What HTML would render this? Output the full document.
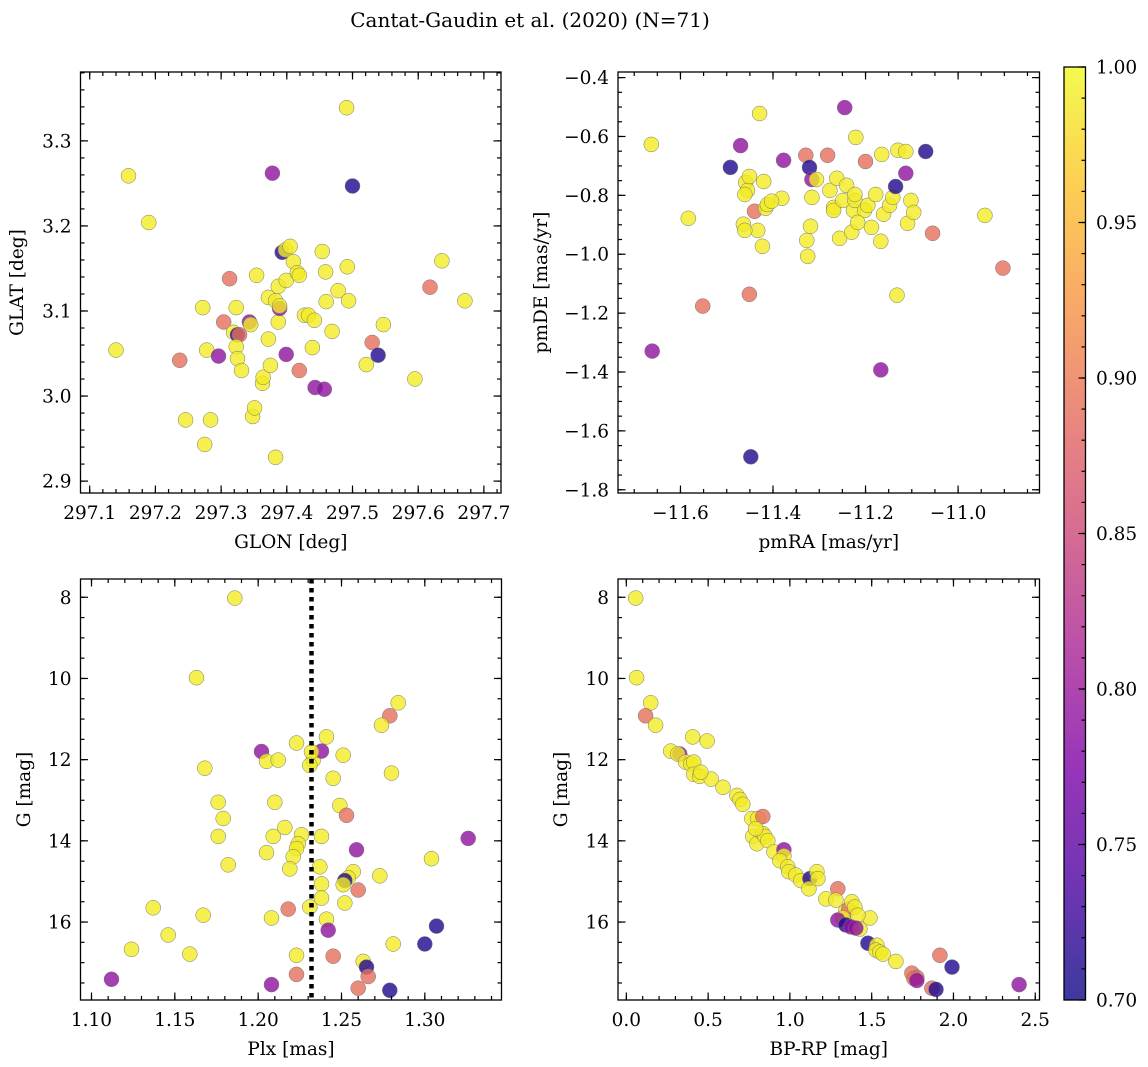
<!DOCTYPE html>
<html><head><meta charset="utf-8">
<style>
html,body{margin:0;padding:0;background:#fff;}
svg{display:block;font-family:"DejaVu Serif","Liberation Serif",serif;}
</style></head>
<body>
<svg id="fig" width="1148" height="1067" viewBox="0 0 1148 1067" xmlns="http://www.w3.org/2000/svg">
<defs>
<linearGradient id="plasma" x1="0" y1="1" x2="0" y2="0">
<stop offset="0" stop-color="#0d0887"/><stop offset="0.125" stop-color="#4c02a1"/><stop offset="0.25" stop-color="#7e03a8"/><stop offset="0.375" stop-color="#a92395"/><stop offset="0.5" stop-color="#cc4778"/><stop offset="0.625" stop-color="#e56b5d"/><stop offset="0.75" stop-color="#f89441"/><stop offset="0.875" stop-color="#fdc328"/><stop offset="1" stop-color="#f0f921"/>
</linearGradient>
</defs>
<text x="530" y="27" font-size="20" text-anchor="middle">Cantat-Gaudin et al. (2020) (N=71)</text>
</svg>
<script>
const Y=0.99,S=0.89,P=0.79,B=0.71;
const skyData=[[297.140,3.054,Y],[297.159,3.259,Y],[297.190,3.204,Y],[297.246,2.972,Y],[297.275,2.943,Y],[297.284,2.972,Y],[297.237,3.042,S],[297.272,3.104,Y],[297.278,3.054,Y],[297.304,3.087,S],[297.313,3.138,S],[297.296,3.047,P],[297.319,3.075,Y],[297.323,3.104,Y],[297.325,3.072,B],[297.328,3.072,S],[297.323,3.058,Y],[297.325,3.044,Y],[297.331,3.030,Y],[297.343,3.087,P],[297.345,3.084,Y],[297.348,2.976,Y],[297.351,2.986,Y],[297.354,3.142,Y],[297.363,3.015,Y],[297.364,3.022,Y],[297.372,3.067,Y],[297.372,3.116,Y],[297.375,3.036,Y],[297.378,3.262,P],[297.383,3.112,Y],[297.387,3.087,Y],[297.387,3.129,Y],[297.389,3.103,P],[297.389,3.106,Y],[297.393,3.169,B],[297.398,3.172,Y],[297.399,3.136,Y],[297.405,3.176,Y],[297.399,3.049,P],[297.410,3.158,Y],[297.416,3.145,Y],[297.419,3.142,Y],[297.419,3.030,S],[297.427,3.095,Y],[297.433,3.095,Y],[297.439,3.057,Y],[297.442,3.089,Y],[297.443,3.010,P],[297.454,3.170,Y],[297.457,3.008,P],[297.459,3.146,Y],[297.460,3.111,Y],[297.469,3.076,Y],[297.478,3.124,Y],[297.491,3.339,Y],[297.492,3.152,Y],[297.494,3.112,Y],[297.500,3.247,B],[297.521,3.037,Y],[297.530,3.063,S],[297.539,3.048,B],[297.547,3.084,Y],[297.595,3.020,Y],[297.618,3.128,S],[297.636,3.159,Y],[297.671,3.112,Y],[297.383,2.928,Y]];
const pmData=[[-11.663,-0.627,Y],[-11.583,-0.878,Y],[-11.552,-1.176,S],[-11.492,-0.705,B],[-11.470,-0.631,P],[-11.451,-1.136,S],[-11.381,-0.810,Y],[-11.464,-0.898,Y],[-11.459,-0.756,Y],[-11.455,-0.783,Y],[-11.451,-0.736,Y],[-11.377,-0.681,P],[-11.429,-0.522,Y],[-11.440,-0.854,S],[-11.433,-0.919,Y],[-11.420,-0.753,Y],[-11.416,-0.844,Y],[-11.412,-0.831,Y],[-11.403,-0.820,Y],[-11.423,-0.973,Y],[-11.461,-0.797,Y],[-11.461,-0.919,Y],[-11.329,-0.664,S],[-11.327,-0.953,Y],[-11.325,-1.007,Y],[-11.321,-0.705,B],[-11.316,-0.746,P],[-11.319,-0.905,Y],[-11.316,-0.807,Y],[-11.306,-0.746,Y],[-11.282,-0.664,S],[-11.277,-0.783,Y],[-11.269,-0.841,Y],[-11.269,-0.851,Y],[-11.262,-0.742,Y],[-11.249,-0.817,Y],[-11.241,-0.766,Y],[-11.256,-0.946,Y],[-11.226,-0.851,Y],[-11.223,-0.817,Y],[-11.230,-0.925,Y],[-11.223,-0.797,Y],[-11.202,-0.851,Y],[-11.200,-0.685,S],[-11.195,-0.834,Y],[-11.217,-0.892,Y],[-11.187,-0.909,Y],[-11.221,-0.603,Y],[-11.178,-0.797,Y],[-11.167,-0.956,Y],[-11.161,-0.864,Y],[-11.148,-0.834,Y],[-11.141,-0.807,Y],[-11.135,-0.770,B],[-11.132,-1.139,Y],[-11.130,-0.647,Y],[-11.113,-0.651,Y],[-11.113,-0.725,P],[-11.109,-0.895,Y],[-11.102,-0.817,Y],[-11.096,-0.858,Y],[-11.070,-0.651,B],[-11.055,-0.929,S],[-10.942,-0.868,Y],[-10.903,-1.047,S],[-11.661,-1.329,P],[-11.167,-1.393,P],[-11.448,-1.688,B],[-11.245,-0.502,P],[-11.165,-0.661,Y]];
const plxData=[[1.186,8.02,Y],[1.163,9.98,Y],[1.284,10.60,Y],[1.279,10.92,S],[1.274,11.15,Y],[1.202,11.80,P],[1.205,12.04,Y],[1.223,11.59,Y],[1.212,12.01,Y],[1.233,12.01,Y],[1.241,11.44,Y],[1.238,11.79,P],[1.232,11.81,Y],[1.251,11.89,Y],[1.231,12.14,Y],[1.245,12.46,Y],[1.168,12.21,Y],[1.280,12.33,Y],[1.176,13.05,Y],[1.210,13.05,Y],[1.179,13.45,Y],[1.249,13.13,Y],[1.253,13.37,S],[1.176,13.89,Y],[1.209,13.89,Y],[1.216,13.67,Y],[1.226,13.85,Y],[1.224,14.07,Y],[1.223,14.19,Y],[1.238,13.89,Y],[1.326,13.94,P],[1.259,14.22,P],[1.182,14.59,Y],[1.205,14.29,Y],[1.221,14.39,Y],[1.219,14.69,Y],[1.237,14.64,Y],[1.257,14.76,Y],[1.254,14.91,Y],[1.252,14.98,B],[1.251,15.08,Y],[1.273,14.86,Y],[1.304,14.44,Y],[1.238,15.06,Y],[1.260,15.21,S],[1.238,15.41,Y],[1.252,15.53,Y],[1.137,15.65,Y],[1.167,15.83,Y],[1.208,15.90,Y],[1.218,15.68,S],[1.231,15.63,Y],[1.241,15.93,Y],[1.242,16.20,P],[1.307,16.10,B],[1.146,16.32,Y],[1.124,16.67,Y],[1.300,16.54,B],[1.159,16.79,Y],[1.223,16.82,Y],[1.245,16.84,S],[1.263,16.97,Y],[1.281,16.54,Y],[1.265,17.11,B],[1.266,17.34,S],[1.223,17.29,S],[1.112,17.41,P],[1.208,17.54,P],[1.260,17.63,S],[1.279,17.68,B]];
const cmdData=[[0.057,8.02,Y],[0.063,9.98,Y],[0.149,10.60,Y],[0.118,10.92,S],[0.179,11.15,Y],[0.271,11.79,Y],[0.326,11.86,P],[0.314,11.86,Y],[0.363,12.06,Y],[0.394,12.11,Y],[0.412,12.06,Y],[0.412,12.36,Y],[0.448,12.41,Y],[0.494,11.54,Y],[0.519,12.48,Y],[0.406,11.44,Y],[0.455,12.31,Y],[0.591,12.68,Y],[0.676,12.88,Y],[0.694,12.98,Y],[0.712,13.10,Y],[0.767,13.45,Y],[0.804,13.45,Y],[0.834,13.40,S],[0.773,13.89,Y],[0.798,14.07,Y],[0.834,13.82,Y],[0.847,13.89,Y],[0.865,13.99,Y],[0.791,13.70,Y],[0.902,14.27,Y],[0.963,14.22,P],[0.963,14.37,Y],[0.939,14.49,Y],[0.987,14.64,Y],[0.993,14.76,Y],[1.036,14.84,Y],[1.067,14.98,Y],[1.122,14.93,B],[1.165,14.76,Y],[1.116,15.18,Y],[1.171,14.93,Y],[1.220,15.43,Y],[1.293,15.18,S],[1.281,15.46,Y],[1.342,15.73,Y],[1.360,15.68,S],[1.379,15.50,Y],[1.397,15.63,Y],[1.324,15.90,Y],[1.489,15.90,Y],[1.416,15.83,Y],[1.293,15.95,P],[1.342,16.07,B],[1.373,16.12,P],[1.428,16.17,Y],[1.403,16.15,P],[1.477,16.52,B],[1.532,16.57,Y],[1.526,16.69,Y],[1.550,16.74,Y],[1.569,16.79,Y],[1.648,16.97,Y],[1.746,17.26,S],[1.776,17.36,S],[1.758,17.39,S],[1.917,16.82,S],[1.868,17.63,S],[1.893,17.66,B],[1.991,17.11,B],[2.401,17.54,P],[1.776,17.44,P]];
const plxCut=1.232;
const skyXTicks=["297.1","297.2","297.3","297.4","297.5","297.6","297.7"];
const skyYTicks=["2.9","3.0","3.1","3.2","3.3"];
const pmXTicks=["−11.6","−11.4","−11.2","−11.0"];
const pmYTicks=["−1.8","−1.6","−1.4","−1.2","−1.0","−0.8","−0.6","−0.4"];
const plxXTicks=["1.10","1.15","1.20","1.25","1.30"];
const gTicks=["8","10","12","14","16"];
const colXTicks=["0.0","0.5","1.0","1.5","2.0","2.5"];
const cbTicks=["0.70","0.75","0.80","0.85","0.90","0.95","1.00"];

const NS="http://www.w3.org/2000/svg";
const svg=document.getElementById('fig');
function mk(tag,attrs,parent){const e=document.createElementNS(NS,tag);for(const k in attrs)e.setAttribute(k,attrs[k]);(parent||svg).appendChild(e);return e;}
const stops=[[0,[13,8,135]],[0.125,[76,2,161]],[0.25,[126,3,168]],[0.375,[169,35,149]],[0.5,[204,71,120]],[0.625,[229,107,93]],[0.75,[248,148,65]],[0.875,[253,195,40]],[1,[240,249,33]]];
function plasma(p){let t=Math.max(0,Math.min(1,(p-0.7)/0.3));for(let i=1;i<stops.length;i++){if(t<=stops[i][0]){const a=stops[i-1],b=stops[i],f=(t-a[0])/(b[0]-a[0]);const c=a[1].map((v,j)=>Math.round(v+(b[1][j]-v)*f));return `rgb(${c[0]},${c[1]},${c[2]})`;}}return 'rgb(240,249,33)';}
const FS=18.5;
function panel(o){
  const g=mk('g',{});
  
  
  const sx=v=>o.x0+(v-o.xd[0])/(o.xd[1]-o.xd[0])*(o.x1-o.x0);
  const sy=v=>o.inv? o.y0+(v-o.yd[0])/(o.yd[1]-o.yd[0])*(o.y1-o.y0) : o.y1-(v-o.yd[0])/(o.yd[1]-o.yd[0])*(o.y1-o.y0);
  const pg=mk('g',{},g);
  
  
  o.data.forEach(d=>{
    const c=mk('circle',{cx:sx(d[0]).toFixed(1),cy:sy(d[1]).toFixed(1),r:7.5,fill:plasma(d[2]),'fill-opacity':0.8,stroke:'#777','stroke-width':0.5},pg);
    
    
  });
  if(o.vline!==undefined){
    const l=mk('line',{x1:sx(o.vline),x2:sx(o.vline),y1:o.y0,y2:o.y1,stroke:'#000','stroke-width':4.5,'stroke-dasharray':'4.5,4.5'},g);
    
    
  }
  const ax=mk('g',{stroke:'#000','stroke-width':1.2},g);
  
  
  const eps=1e-9;
  for(let v=Math.ceil(o.xd[0]/o.xmin-eps)*o.xmin; v<=o.xd[1]+eps; v+=o.xmin){const X=sx(v);mk('line',{x1:X,x2:X,y1:o.y1,y2:o.y1-4},ax);mk('line',{x1:X,x2:X,y1:o.y0,y2:o.y0+4},ax);}
  for(let v=Math.ceil(Math.min(...o.yd)/o.ymin-eps)*o.ymin; v<=Math.max(...o.yd)+eps; v+=o.ymin){const Yp=sy(v);mk('line',{x1:o.x0,x2:o.x0+4,y1:Yp,y2:Yp},ax);mk('line',{x1:o.x1,x2:o.x1-4,y1:Yp,y2:Yp},ax);}
  o.xt.forEach(t=>{const v=parseFloat(t.replace('−','-'));const X=sx(v);mk('line',{x1:X,x2:X,y1:o.y1,y2:o.y1-7.5},ax);mk('line',{x1:X,x2:X,y1:o.y0,y2:o.y0+7.5},ax);
    const tx=mk('text',{x:X,y:o.y1+26,'font-size':FS,'text-anchor':'middle',stroke:'none',fill:'#000'},g);tx.textContent=t;
    
    });
  o.yt.forEach(t=>{const v=parseFloat(t.replace('−','-'));const Yp=sy(v);mk('line',{x1:o.x0,x2:o.x0+7.5,y1:Yp,y2:Yp},ax);mk('line',{x1:o.x1,x2:o.x1-7.5,y1:Yp,y2:Yp},ax);
    const tx=mk('text',{x:o.x0-9,y:Yp+6.5,'font-size':FS,'text-anchor':'end',stroke:'none',fill:'#000'},g);tx.textContent=t;
    
    });
  mk('rect',{x:o.x0,y:o.y0,width:o.x1-o.x0,height:o.y1-o.y0,fill:'none',stroke:'#000','stroke-width':1.3},ax);
  const xl=mk('text',{x:(o.x0+o.x1)/2,y:o.y1+55,'font-size':FS,'text-anchor':'middle'},g);xl.textContent=o.xl;
  
  
  const yc=(o.y0+o.y1)/2;
  const yl=mk('text',{x:o.ylx,y:yc,'font-size':FS,'text-anchor':'middle',transform:`rotate(-90 ${o.ylx} ${yc})`},g);yl.textContent=o.yl;
  
  
}
panel({name:'sky-panel',data:skyData,x0:80.5,x1:501,y0:72,y1:493,xd:[297.086,297.726],yd:[2.886,3.381],xmin:0.02,ymin:0.02,xt:skyXTicks,yt:skyYTicks,xl:'GLON [deg]',yl:'GLAT [deg]',ylx:23});
panel({name:'proper-motion-panel',data:pmData,x0:618,x1:1039.5,y0:72,y1:493,xd:[-11.735,-10.824],yd:[-1.811,-0.381],xmin:0.05,ymin:0.05,xt:pmXTicks,yt:pmYTicks,xl:'pmRA [mas/yr]',yl:'pmDE [mas/yr]',ylx:547});
panel({name:'parallax-panel',data:plxData,x0:80.5,x1:501.5,y0:579,y1:1000,xd:[1.0934,1.346],yd:[7.55,17.92],inv:true,xmin:0.01,ymin:0.5,xt:plxXTicks,yt:gTicks,xl:'Plx [mas]',yl:'G [mag]',ylx:30,vline:plxCut});
panel({name:'cmd-panel',data:cmdData,x0:618,x1:1039.5,y0:579,y1:1000,xd:[-0.051,2.526],yd:[7.55,17.92],inv:true,xmin:0.1,ymin:0.5,xt:colXTicks,yt:gTicks,xl:'BP-RP [mag]',yl:'G [mag]',ylx:567});

// colorbar
const cb=mk('g',{});


const cbx0=1064,cbx1=1085.5,cby0=67,cby1=1000;
mk('rect',{x:cbx0,y:cby0,width:cbx1-cbx0,height:cby1-cby0,fill:'url(#plasma)','fill-opacity':0.8},cb);
const cs=v=>cby1-(v-0.7)/0.3*(cby1-cby0);
for(let v=0.70;v<=1.0001;v+=0.01){mk('line',{x1:cbx1,x2:cbx1-4,y1:cs(v),y2:cs(v),stroke:'#000','stroke-width':1.2},cb);}
cbTicks.forEach(t=>{const Yp=cs(parseFloat(t));mk('line',{x1:cbx1,x2:cbx1-7,y1:Yp,y2:Yp,stroke:'#000','stroke-width':1.2},cb);
  const tx=mk('text',{x:1096,y:Yp+6.5,'font-size':FS},cb);tx.textContent=t;
  
  });
mk('rect',{x:cbx0,y:cby0,width:cbx1-cbx0,height:cby1-cby0,fill:'none',stroke:'#000','stroke-width':1.3},cb);
</script>
</body></html>
